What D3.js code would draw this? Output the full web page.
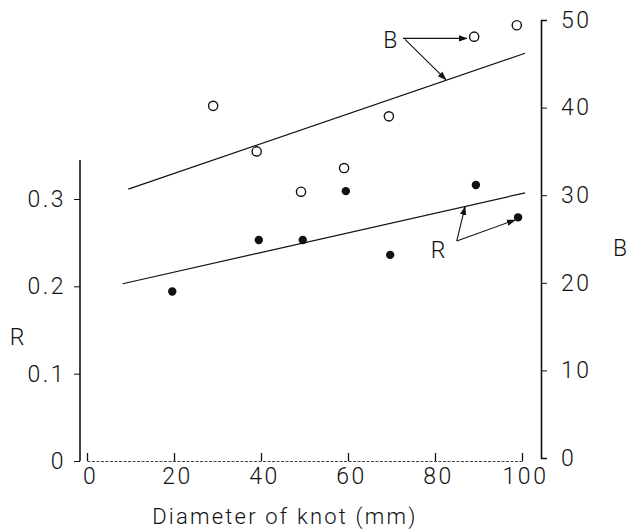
<!DOCTYPE html>
<html>
<head>
<meta charset="utf-8">
<script src="https://cdn.jsdelivr.net/npm/d3@7"></script>
<style>
  html, body { margin: 0; padding: 0; background: #fff; }
  svg text { font-family: Roboto, "Liberation Sans", Arial, sans-serif; font-weight: 300; fill: #111; }
</style>
</head>
<body>
<svg id="chart" width="641" height="532"></svg>
<script>
// ─── Data ───────────────────────────────────────────────────────────────────
const rX = [19.6, 39.5, 49.6, 59.5, 69.7, 89.4, 99.1];
const rVals = [0.194, 0.253, 0.253, 0.309, 0.236, 0.316, 0.279];

const bX = [29.0, 39.0, 49.2, 59.1, 69.4, 89.0, 98.8];
const bVals = [40.2, 35.0, 30.4, 33.1, 39.0, 48.1, 49.4];

// fitted lines, [x, value] end points
const rFit = [[8.2, 0.203], [100.7, 0.307]];
const bFit = [[9.5, 30.7], [100.7, 46.2]];

const xTicks = [0, 20, 40, 60, 80, 100];
const rTicks = [0, 0.1, 0.2, 0.3];
const rTickLabels = ["0", "0.1", "0.2", "0.3"];
const bTicks = [0, 10, 20, 30, 40, 50];

// annotation positions in data units
const bLabel = [69.7, 47.7];
const bArrows = [[[72.6, 47.9], [87.3, 47.9]], [[73.1, 47.8], [82.5, 43.2]]];
const rLabel = [80.7, 0.2416];
const rArrows = [[[85.0, 0.252], [86.9, 0.291]], [[85.0, 0.252], [98.4, 0.276]]];

// ─── Scales ────────────────────────────────────────────────────────────────
const svg = d3.select("#chart");
const x = d3.scaleLinear().domain([0, 100]).range([87, 522]);
const yR = d3.scaleLinear().domain([0, 0.3]).range([461, 199]);
const yB = d3.scaleLinear().domain([0, 50]).range([458, 20]);

const LEFT_X = 80, RIGHT_X = 541;
const FONT = 23;

svg.append("defs").append("marker")
  .attr("id", "head")
  .attr("viewBox", "0 0 10 10")
  .attr("refX", 9).attr("refY", 5)
  .attr("markerWidth", 9).attr("markerHeight", 9)
  .attr("markerUnits", "userSpaceOnUse")
  .attr("orient", "auto")
  .append("path").attr("d", "M0,1.5 L10,5 L0,8.5 Z").attr("fill", "#111");

// ─── Axes ──────────────────────────────────────────────────────────────────
const xAxis = svg.append("g")
  .attr("transform", `translate(0,${yR(0)})`)
  .call(d3.axisBottom(x).tickValues(xTicks).tickSize(-8).tickSizeOuter(0).tickPadding(14));
xAxis.select(".domain").attr("stroke", "#444").attr("stroke-width", 1).attr("stroke-dasharray", "3,1.5");
xAxis.selectAll(".tick line").attr("stroke", "#111").attr("stroke-width", 1.3);
xAxis.selectAll(".tick text").attr("font-size", FONT).style("letter-spacing", "2.5px")
  .attr("dy", "0.71em").attr("y", 7).attr("dx", 3);

const leftAxis = svg.append("g")
  .attr("transform", `translate(${LEFT_X},0)`)
  .call(d3.axisLeft(yR).tickValues(rTicks).tickFormat((d, i) => rTickLabels[i]).tickSize(6).tickPadding(8));
leftAxis.select(".domain").remove();
leftAxis.append("line")
  .attr("y1", yR(0)).attr("y2", 160)
  .attr("stroke", "#111").attr("stroke-width", 1.6);
leftAxis.selectAll(".tick line").attr("stroke", "#111").attr("stroke-width", 1);
leftAxis.selectAll(".tick text").attr("font-size", FONT).style("letter-spacing", "2.5px");

const rightAxis = svg.append("g")
  .attr("transform", `translate(${RIGHT_X},0)`)
  .call(d3.axisRight(yB).tickValues(bTicks).tickSize(6).tickSizeOuter(6).tickPadding(14));
rightAxis.select(".domain").attr("stroke", "#111").attr("stroke-width", 1.6);
rightAxis.selectAll(".tick line").attr("stroke", "#111").attr("stroke-width", 1);
rightAxis.selectAll(".tick text").attr("font-size", FONT).style("letter-spacing", "2.5px");

// axis titles
svg.append("text").attr("x", 17).attr("y", yR(0.142)).attr("text-anchor", "middle")
  .attr("dy", "0.35em").attr("font-size", FONT).text("R");
svg.append("text").attr("x", 620).attr("y", yB(24)).attr("text-anchor", "middle")
  .attr("dy", "0.35em").attr("font-size", FONT).text("B");
svg.append("text").attr("x", x(45.5)).attr("y", 524).attr("text-anchor", "middle")
  .attr("font-size", 22).style("letter-spacing", "2.2px").text("Diameter of knot (mm)");

// ─── Fitted lines ──────────────────────────────────────────────────────────
const rLine = d3.line().x(d => x(d[0])).y(d => yR(d[1]));
const bLine = d3.line().x(d => x(d[0])).y(d => yB(d[1]));
svg.append("path").attr("d", rLine(rFit)).attr("fill", "none").attr("stroke", "#111").attr("stroke-width", 1.2);
svg.append("path").attr("d", bLine(bFit)).attr("fill", "none").attr("stroke", "#111").attr("stroke-width", 1.2);

// ─── Points ────────────────────────────────────────────────────────────────
svg.append("g").selectAll("circle")
  .data(bX.map((d, i) => [d, bVals[i]]))
  .join("circle")
  .attr("cx", d => x(d[0])).attr("cy", d => yB(d[1])).attr("r", 4.6)
  .attr("fill", "#fff").attr("stroke", "#111").attr("stroke-width", 1.4);

svg.append("g").selectAll("circle")
  .data(rX.map((d, i) => [d, rVals[i]]))
  .join("circle")
  .attr("cx", d => x(d[0])).attr("cy", d => yR(d[1])).attr("r", 4.2)
  .attr("fill", "#111");

// ─── Annotations ───────────────────────────────────────────────────────────
svg.append("text").attr("x", x(bLabel[0])).attr("y", yB(bLabel[1]))
  .attr("text-anchor", "middle").attr("dy", "0.35em").attr("font-size", FONT).text("B");
svg.append("g").selectAll("path")
  .data(bArrows).join("path")
  .attr("d", bLine).attr("stroke", "#111").attr("stroke-width", 1.1)
  .attr("marker-end", "url(#head)");

svg.append("text").attr("x", x(rLabel[0])).attr("y", yR(rLabel[1]))
  .attr("text-anchor", "middle").attr("dy", "0.35em").attr("font-size", FONT).text("R");
svg.append("g").selectAll("path")
  .data(rArrows).join("path")
  .attr("d", rLine).attr("stroke", "#111").attr("stroke-width", 1.1)
  .attr("marker-end", "url(#head)");
</script>
</body>
</html>
